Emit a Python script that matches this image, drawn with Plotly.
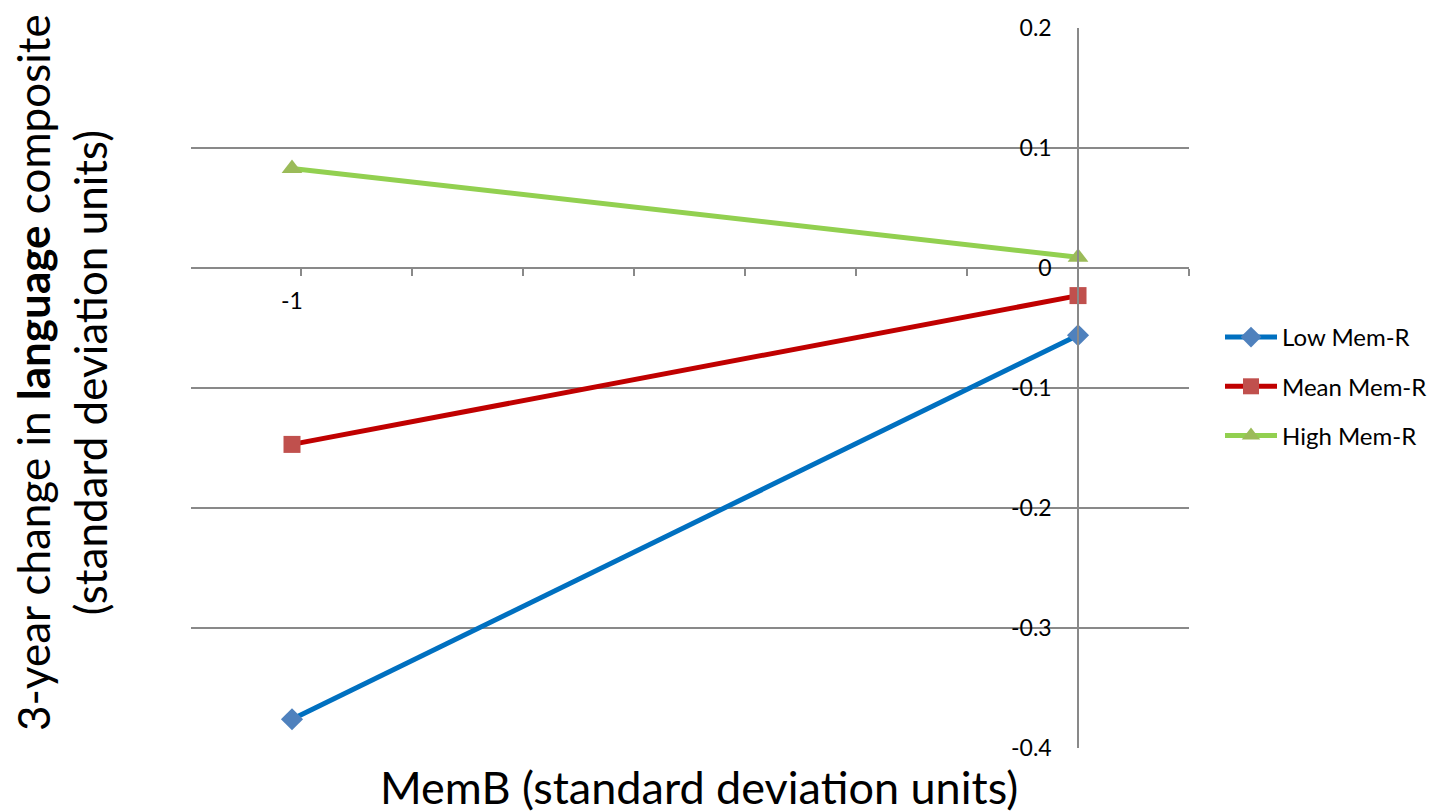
import plotly.graph_objects as go

# Data
x_vals = [-1, 0]
low_mem_r = [-0.376, -0.056]
mean_mem_r = [-0.147, -0.023]
high_mem_r = [0.083, 0.009]

series_names = ["Low Mem-R", "Mean Mem-R", "High Mem-R"]
y_tick_vals = [-0.4, -0.3, -0.2, -0.1, 0, 0.1, 0.2]
y_tick_text = ["-0.4", "-0.3", "-0.2", "-0.1", "0", "0.1", "0.2"]
x_tick_vals = [-1]
x_tick_text = ["-1"]

FONT = "Lato"
GRID = "#898989"

x_range = [-1.1285, 0.1412]
y_range = [-0.4, 0.2]
x_step = 0.1412

# figure geometry (page has an 8px body margin)
W, H = 1431, 804
L, T = 183, 20
PW, PH = 998, 720
R, B = W - L - PW, H - T - PH

fig = go.Figure()

styles = [
    dict(line="#0070C0", marker="#4F81BD", symbol="diamond", size=17),
    dict(line="#C00000", marker="#C0504D", symbol="square", size=17),
    dict(line="#92D050", marker="#9BBB59", symbol="triangle-up", size=18),
]
for name, ys, st in zip(series_names, [low_mem_r, mean_mem_r, high_mem_r], styles):
    fig.add_trace(go.Scatter(
        x=x_vals, y=ys, name=name, mode="lines+markers",
        legendgroup=name,
        line=dict(color=st["line"], width=5),
        marker=dict(color=st["marker"], symbol=st["symbol"], size=st["size"], line=dict(width=0)),
    ))

y_cross = (0 - y_range[0]) / (y_range[1] - y_range[0])
x_cross = (0 - x_range[0]) / (x_range[1] - x_range[0])

fig.update_layout(
    width=W, height=H,
    margin=dict(l=L, r=R, t=T, b=B, autoexpand=False),
    paper_bgcolor="white", plot_bgcolor="white",
    font=dict(family=FONT, color="black", size=23),
    showlegend=True,
    legend=dict(
        x=(1212 - L) / PW, xanchor="left", y=1 - (307 - T) / PH, yanchor="top",
        font=dict(family=FONT, size=24, color="black"),
        itemwidth=52, tracegroupgap=15, bgcolor="rgba(0,0,0,0)",
    ),
    xaxis=dict(
        range=x_range, anchor="free", position=y_cross, automargin=False,
        showline=True, linecolor=GRID, linewidth=1.5,
        showgrid=False, zeroline=False,
        tickmode="array", tickvals=x_tick_vals, ticktext=x_tick_text,
        ticks="", ticklabelstandoff=13,
        tickfont=dict(family=FONT, size=23),
        minor=dict(tickmode="linear", tick0=0, dtick=x_step, ticks="outside",
                   ticklen=7, tickwidth=1.5, tickcolor=GRID, showgrid=False),
    ),
    yaxis=dict(
        range=y_range, anchor="free", position=x_cross, automargin=False,
        showline=True, linecolor=GRID, linewidth=1.5,
        showgrid=True, gridcolor=GRID, gridwidth=1.5, zeroline=False,
        tickmode="array", tickvals=y_tick_vals, ticktext=y_tick_text,
        ticks="", ticklabelstandoff=21,
        tickfont=dict(family=FONT, size=23),
    ),
)

fig.add_annotation(
    text="MemB (standard deviation units)", xref="paper", yref="paper",
    x=(691 - L) / PW, y=-(779 - (T + PH)) / PH, xanchor="center", yanchor="middle",
    showarrow=False, font=dict(family=FONT, size=45, color="black"),
)
fig.add_annotation(
    text="3-year change in <b>language</b> composite<br>(standard deviation units)",
    xref="paper", yref="paper",
    x=-(L - 53) / PW, y=((T + PH) - 365) / PH, xanchor="center", yanchor="middle",
    textangle=-90, showarrow=False,
    font=dict(family=FONT, size=44, color="black"),
)

fig.write_html("out.html")
